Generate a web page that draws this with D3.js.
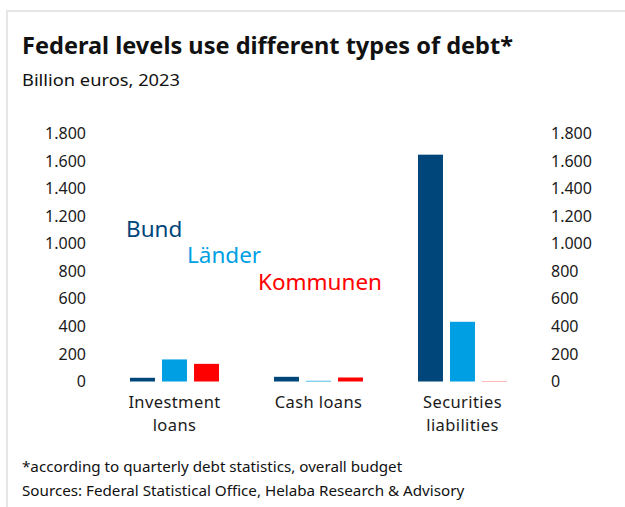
<!DOCTYPE html>
<html>
<head>
<meta charset="utf-8">
<script src="https://cdn.jsdelivr.net/npm/d3@7"></script>
<style>
  html, body { margin: 0; padding: 0; background: #fff; }
  svg { display: block; font-family: "Noto Sans", "Open Sans", sans-serif; }
</style>
</head>
<body>
<svg id="chart" width="625" height="507"></svg>
<script>
// Debt by type and federal level, billion euros, 2023
const categories = ["Investment loans", "Cash loans", "Securities liabilities"];
const categoryLines = [["Investment", "loans"], ["Cash loans"], ["Securities", "liabilities"]];
const seriesNames = ["Bund", "Länder", "Kommunen"];
const bund = [27, 34, 1645];
const laender = [160, 5, 433];
const kommunen = [128, 29, 2];
const yTicks = [0, 200, 400, 600, 800, 1000, 1200, 1400, 1600, 1800];
const colors = ["#00467a", "#009fe3", "#ff0000"];

const seriesValues = [bund, laender, kommunen];

const svg = d3.select("#chart");
const W = 625, H = 507;

// frame
svg.append("path")
  .attr("d", `M7,${H} V11 H${W}`)
  .attr("fill", "none")
  .attr("stroke", "#e6e6e6")
  .attr("stroke-width", 2);

// titles
svg.append("text").attr("x", 22).attr("y", 54)
  .attr("font-size", 23.5).attr("font-weight", 700).attr("fill", "#111")
  .attr("textLength", 491).attr("lengthAdjust", "spacingAndGlyphs")
  .text("Federal levels use different types of debt*");
svg.append("text").attr("x", 22).attr("y", 86)
  .attr("font-size", 17).attr("fill", "#111")
  .attr("textLength", 158).attr("lengthAdjust", "spacingAndGlyphs")
  .text("Billion euros, 2023");

// scales
const y = d3.scaleLinear().domain([0, 1800]).range([381.5, 133.3]);
const x0 = d3.scaleBand().domain(categories).range([102.5, 534.5])
  .paddingInner(0.382).paddingOuter(0.191);
const x1 = d3.scaleBand().domain(seriesNames).range([0, x0.bandwidth()])
  .paddingInner(0.22).paddingOuter(0);

const de = d3.formatLocale({ decimal: ",", thousands: ".", grouping: [3], currency: ["", " €"] });
const fmt = de.format(",d");

// left and right axes (labels only)
const leftAxis = d3.axisLeft(y).tickValues(yTicks).tickFormat(fmt).tickSize(0).tickPadding(0);
const gl = svg.append("g").attr("transform", "translate(86,0)").call(leftAxis);
const rightAxis = d3.axisRight(y).tickValues(yTicks).tickFormat(fmt).tickSize(0).tickPadding(0);
const gr = svg.append("g").attr("transform", "translate(551,0)").call(rightAxis);
[gl, gr].forEach(g => {
  g.select(".domain").remove();
  g.selectAll("text").attr("font-size", 16).attr("fill", "#1a1a1a")
    .attr("font-family", "\"Noto Sans\", sans-serif");
});

// bars
const groups = svg.append("g").selectAll("g")
  .data(categories)
  .join("g")
  .attr("transform", d => `translate(${x0(d)},0)`);

groups.selectAll("rect")
  .data((d, i) => seriesNames.map((s, j) => ({ s, j, v: seriesValues[j][i] })))
  .join("rect")
  .attr("x", d => x1(d.s))
  .attr("width", x1.bandwidth())
  .attr("y", d => y(d.v))
  .attr("height", d => y(0) - y(d.v))
  .attr("fill", d => colors[d.j]);

// category labels, one text per line
categories.forEach((c, i) => {
  categoryLines[i].forEach((line, k) => {
    svg.append("text")
      .attr("x", x0(c) + x0.bandwidth() / 2)
      .attr("y", 408 + k * 22.6)
      .attr("text-anchor", "middle")
      .attr("font-size", 16.5).attr("letter-spacing", 0.4).attr("fill", "#1a1a1a")
      .text(line);
  });
});

// series labels
const legendPos = [[126, 237], [187, 263], [258, 290]];
seriesNames.forEach((s, j) => {
  svg.append("text")
    .attr("x", legendPos[j][0]).attr("y", legendPos[j][1])
    .attr("font-size", 22.5).attr("fill", colors[j])
    .text(s);
});

// notes
svg.append("text").attr("x", 22).attr("y", 472)
  .attr("font-size", 15.2).attr("fill", "#111")
  .text("*according to quarterly debt statistics, overall budget");
svg.append("text").attr("x", 22).attr("y", 496)
  .attr("font-size", 15.2).attr("fill", "#111")
  .text("Sources: Federal Statistical Office, Helaba Research & Advisory");
</script>
</body>
</html>
